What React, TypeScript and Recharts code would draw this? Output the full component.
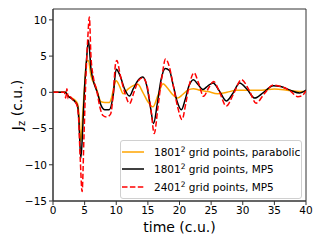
import React from 'react';
import { LineChart, Line, XAxis, YAxis, Legend, ReferenceArea } from 'recharts';

// time (c.u.) and Jz (c.u.), one pair of arrays per run
const parabolicT = [0, 1, 2, 2.2, 2.5, 3.0, 3.5, 3.9, 4.1, 4.4, 4.7, 5.0, 5.3, 5.6, 6.0, 6.8, 7.6, 8.2, 8.9, 9.3, 9.7, 10.0, 10.5, 11.1, 11.8, 12.6, 13.4, 14.2, 15.0, 15.8, 16.6, 17.4, 18.1, 18.9, 19.7, 20.5, 21.3, 22.2, 23.2, 24.5, 26, 27.5, 29, 31, 33, 35, 37, 39, 40];
const parabolicJ = [0, 0, 0, -0.3, -0.6, -0.8, -1.1, -1.6, -3, -6.8, -3, 1, 4.2, 4.4, 2.3, 0.7, -1.3, -1.4, -1.4, -0.6, 1.0, 1.6, 0.9, -0.2, 0.4, 0.9, 1.1, 0.0, -1.3, -2.0, -0.4, 1.2, 0.6, -0.3, -0.8, -0.3, 0.3, 0.5, 0.3, 0.1, -0.2, 0.0, 0.3, 0.3, 0.3, 0.45, 0.3, 0.1, 0.1];

const mp5T = [0, 1, 2, 2.2, 2.5, 3.0, 3.5, 3.9, 4.1, 4.4, 4.7, 4.95, 5.3, 5.6, 6.0, 6.5, 7.0, 7.6, 8.2, 8.9, 9.5, 10.0, 10.6, 11.3, 12.1, 12.7, 13.4, 14.2, 14.8, 15.4, 15.9, 16.5, 17.1, 17.75, 18.4, 19.0, 19.6, 20.3, 20.9, 21.5, 22.2, 22.9, 23.7, 24.5, 25.3, 26.3, 27.4, 28.4, 29.5, 30.7, 31.9, 33.3, 34.8, 36, 37.5, 39, 40];
const mp5J = [0, 0, 0, -0.3, -0.6, -0.9, -1.3, -1.9, -4, -9.1, -5, 0, 4.5, 7.2, 3.3, 1.2, 0, -1.8, -2.4, -2.4, -0.5, 3.2, 2.3, 0.5, -0.5, 0.5, 1.6, 2.1, 1.0, -2, -4.3, -1.5, 1.8, 3.3, 3.0, 1.0, -1.2, -2.4, -1.0, 0.9, 1.75, 1.1, 0.4, 0.9, 1.3, 0.2, -1.2, -0.2, 1.3, 0.4, -0.8, 0.0, 0.9, 0.8, 0.3, -0.1, 0.3];

const fineT = [0, 1.8, 2.0, 2.2, 2.4, 2.7, 3.2, 3.7, 4.0, 4.3, 4.6, 4.9, 5.2, 5.5, 5.75, 6.0, 6.4, 6.9, 7.4, 7.9, 8.5, 9.1, 9.5, 9.9, 10.1, 10.6, 11.4, 12.1, 12.8, 13.5, 14.2, 14.9, 15.5, 16.0, 16.6, 17.2, 17.8, 18.4, 19.0, 19.7, 20.4, 21.0, 21.6, 22.3, 23.0, 23.8, 24.6, 25.4, 26.3, 27.4, 28.5, 29.8, 31.0, 32.1, 33.4, 34.8, 36, 37.5, 38.7, 39.3, 40];
const fineJ = [0, 0, -0.8, 0.5, -0.9, -0.6, -1.1, -1.6, -3, -9, -13.7, -6, 2, 7.5, 10.4, 5, 2, 0.3, -2, -3.2, -3.4, -3.0, -0.5, 4.0, 4.4, 2.5, -0.2, -1.55, 0, 1.6, 2.0, 0.8, -2.5, -5.7, -2, 2, 4.6, 3.5, 1, -2, -3.75, -1.5, 1.2, 2.7, 1.3, -0.55, 0.6, 1.5, 0.1, -1.9, -0.3, 1.75, 0.3, -1.5, -0.2, 1.0, 0.8, 0.2, -0.6, -0.5, 0.2];

const xTicks = [0, 5, 10, 15, 20, 25, 30, 35, 40];
const yTicks = [-15, -10, -5, 0, 5, 10];

const toPoints = (t: number[], j: number[]) => t.map((x, i) => ({ x, y: j[i] }));
const parabolic = toPoints(parabolicT, parabolicJ);
const mp5 = toPoints(mp5T, mp5J);
const fine = toPoints(fineT, fineJ);

const font = 'DejaVu Sans';
const fmt = (v: number) => (v < 0 ? '\u2212' + Math.abs(v) : String(v));

const YLabel = ({ viewBox }: any) => {
  const x = viewBox.x + 22;
  const y = viewBox.y + viewBox.height / 2;
  return (
    <text x={x} y={y} transform={`rotate(-90, ${x}, ${y})`} textAnchor="middle" fontFamily={font} fontSize={14} fill="#000">
      J<tspan fontSize={10} dy={3}>z</tspan>
      <tspan dy={-3}> (c.u.)</tspan>
    </text>
  );
};

const rows = [
  { base: '1801', rest: ' grid points, parabolic', color: 'orange', dash: undefined },
  { base: '1801', rest: ' grid points, MP5', color: '#000', dash: undefined },
  { base: '2401', rest: ' grid points, MP5', color: '#ff0000', dash: '5.5 2.4' },
];

const LegendBox = () => (
  <div style={{ width: 180, height: 55, border: '1px solid #d0d0d0', borderRadius: 3, background: 'rgba(255,255,255,0.8)', paddingTop: 2, fontFamily: font, fontSize: 10.5, color: '#000' }}>
    {rows.map((r) => (
      <div key={r.base + r.rest} style={{ display: 'flex', alignItems: 'center', height: 17.5, whiteSpace: 'nowrap' }}>
        <svg width={32} height={10} style={{ marginLeft: 1, flex: 'none' }}>
          <line x1={0} y1={5} x2={22} y2={5} stroke={r.color} strokeWidth={1.5} strokeDasharray={r.dash} />
        </svg>
        <span>
          {r.base}
          <sup style={{ fontSize: 7.5, verticalAlign: 0, position: 'relative', top: -4 }}>2</sup>
          {r.rest}
        </span>
      </div>
    ))}
  </div>
);

export default function App() {
  return (
    <div style={{ position: 'absolute', left: 0, top: 0, background: '#fff' }}>
      <LineChart width={321} height={241} margin={{ top: 9, right: 15, bottom: 0, left: 0 }}>
        <XAxis
          type="number"
          dataKey="x"
          domain={[0, 40]}
          ticks={xTicks}
          interval={0}
          allowDataOverflow
          height={40}
          tickSize={4}
          tickMargin={2}
          stroke="#333"
          tick={{ fill: '#000', fontSize: 10.5, fontFamily: font }}
          label={{ value: 'time (c.u.)', position: 'insideBottom', offset: 9, fill: '#000', fontSize: 14, fontFamily: font }}
        />
        <YAxis
          type="number"
          domain={[-15, 11.5]}
          ticks={yTicks}
          interval={0}
          allowDataOverflow
          width={53}
          tickSize={4}
          tickMargin={2}
          stroke="#333"
          tickFormatter={fmt}
          tick={{ fill: '#000', fontSize: 10.5, fontFamily: font }}
          label={<YLabel />}
        />
        <ReferenceArea x1={0} x2={40} y1={-15} y2={11.5} fill="none" stroke="#333" strokeWidth={1} ifOverflow="visible" />
        <Line data={parabolic} dataKey="y" type="monotone" stroke="orange" strokeWidth={1.5} dot={false} isAnimationActive={false} />
        <Line data={mp5} dataKey="y" type="monotone" stroke="#000" strokeWidth={1.5} dot={false} isAnimationActive={false} />
        <Line data={fine} dataKey="y" type="monotone" stroke="#ff0000" strokeWidth={1.5} strokeDasharray="5.5 2.4" dot={false} isAnimationActive={false} />
        <Legend
          layout="vertical"
          align="center"
          verticalAlign="middle"
          content={<LegendBox />}
          wrapperStyle={{ left: 120, top: 140, width: 182, height: 57 }}
        />
      </LineChart>
    </div>
  );
}
